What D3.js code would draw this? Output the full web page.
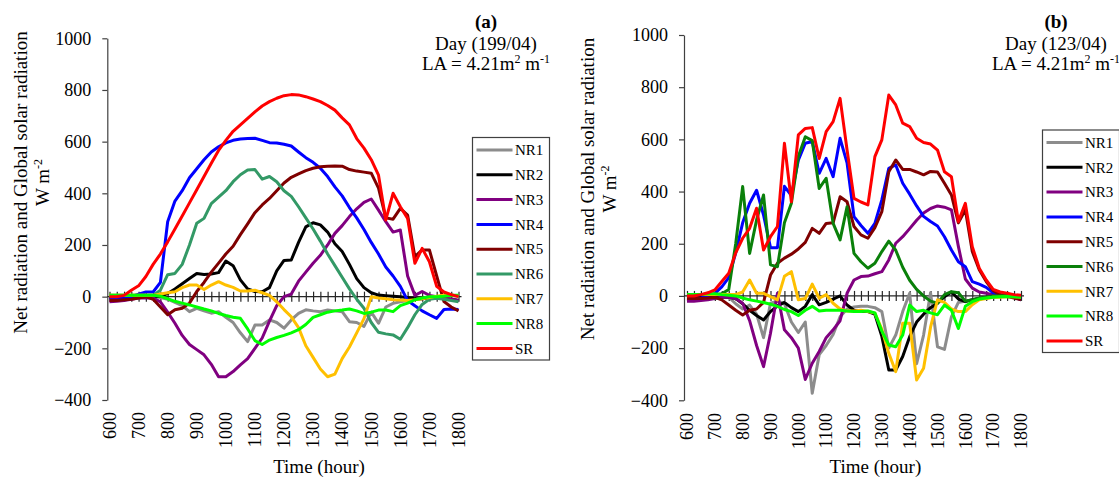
<!DOCTYPE html>
<html lang="en">
<head>
<meta charset="UTF-8">
<title>Net radiation and Global solar radiation</title>
<script src="https://d3js.org/d3.v7.min.js"></script>
<style>
  body { margin: 0; background: #fff; }
  svg { display: block; }
  svg text { font-family: "Liberation Serif", "Times New Roman", serif; fill: #000; }
</style>
</head>
<body>
<svg id="chart" width="1119" height="477"></svg>
<script>
// time of day (hhmm), one reading every 15 minutes
var times = [600,615,630,645,700,715,730,745,800,815,830,845,900,915,930,945,
  1000,1015,1030,1045,1100,1115,1130,1145,1200,1215,1230,1245,1300,1315,1330,1345,
  1400,1415,1430,1445,1500,1515,1530,1545,1600,1615,1630,1645,1700,1715,1730,1745,1800];
var hourTicks = [600,700,800,900,1000,1100,1200,1300,1400,1500,1600,1700,1800];
var yTicks = [-400,-200,0,200,400,600,800,1000];
var seriesNames = ["NR1","NR2","NR3","NR4","NR5","NR6","NR7","NR8","SR"];

// (a) day 199/04
var a_NR1 = [-5,-5,-3,0,0,0,0,-3,-10,-22,-35,-58,-45,-55,-64,-58,-80,-100,-140,-174,-110,-110,-90,-100,-122,-90,-65,-51,-55,-58,-52,-55,-58,-97,-100,-115,-60,-103,-40,-26,-20,-15,-10,-8,-5,-5,-8,-10,-15];
var a_NR2 = [-3,-3,-2,0,0,0,0,2,12,30,50,70,90,86,88,93,138,120,65,30,20,19,35,100,140,142,210,270,286,278,250,205,175,125,70,35,15,6,4,2,0,-4,-8,-8,-5,-5,-8,-10,-15];
var a_NR3 = [-20,-18,-15,-10,-5,-5,-5,-20,-60,-103,-150,-185,-205,-225,-262,-310,-310,-290,-264,-240,-200,-160,-95,-35,0,10,60,95,129,160,200,245,275,310,340,365,378,335,290,250,258,80,5,20,5,0,-5,-10,-15];
var a_NR4 = [-8,-8,-5,0,10,18,18,55,290,370,410,460,495,530,560,580,595,605,610,612,613,605,596,595,590,583,560,538,520,497,465,425,390,345,305,260,210,165,115,80,40,-15,-35,-55,-70,-84,-50,-48,-50];
var a_NR5 = [-15,-15,-12,-10,-5,0,-10,-40,-70,-51,-45,-25,20,55,95,130,165,195,240,282,325,355,380,410,440,462,475,488,497,503,505,506,505,492,486,482,478,420,305,300,342,316,155,181,181,80,-19,-40,-55];
var a_NR6 = [5,5,5,5,5,5,5,25,85,90,125,200,284,303,360,385,410,445,472,490,492,455,465,445,410,388,348,305,262,215,165,120,75,30,-10,-45,-100,-138,-144,-148,-165,-120,-70,-30,-10,-6,-10,-15,-20];
var a_NR7 = [5,5,5,5,5,5,5,10,15,19,35,45,45,28,45,58,45,36,22,22,25,15,5,-20,-50,-78,-120,-190,-235,-280,-310,-300,-240,-195,-140,-85,0,-5,-8,-12,-13,-15,-12,-8,-3,2,5,5,3];
var a_NR8 = [5,5,5,5,5,5,5,2,-8,-18,-25,-32,-40,-48,-55,-65,-73,-80,-84,-125,-170,-185,-168,-158,-150,-140,-128,-108,-80,-70,-60,-55,-52,-48,-55,-65,-60,-52,-52,-58,-35,-25,-12,-5,0,0,2,5,5];
var a_SR  = [0,0,5,25,42,78,125,165,212,262,312,363,414,465,516,566,605,640,665,690,715,738,755,768,778,782,781,774,765,755,740,722,692,665,612,575,530,470,297,400,348,303,129,187,135,40,18,8,0];

// (b) day 123/04
var b_NR1 = [-5,-5,-3,0,0,0,-5,-30,-50,-35,-70,-160,-28,-20,-30,-100,-140,-100,-373,-225,-190,-148,-80,-50,-42,-40,-40,-45,-60,-200,-150,-60,10,-260,-150,12,-195,-205,-80,-25,-20,-15,-10,-5,-3,0,0,-3,-5];
var b_NR2 = [-5,-5,-5,-5,-5,-5,-5,-10,-30,-55,-75,-92,-60,-38,-25,-45,-60,-40,5,-34,-25,-12,0,-35,-55,-60,-60,-70,-155,-284,-284,-232,-156,-100,-70,-45,-28,-3,15,-12,-22,-15,-10,-5,-3,0,0,-3,-5];
var b_NR3 = [-20,-20,-18,-15,-10,-5,-5,-10,-28,-95,-190,-271,-143,10,-130,-160,-200,-320,-258,-213,-160,-130,-95,10,61,74,76,85,93,138,202,227,258,290,318,335,345,340,330,190,65,30,15,10,5,0,0,-5,-10];
var b_NR4 = [-10,-10,-8,0,10,35,70,165,280,355,405,310,185,185,420,385,520,585,592,470,527,457,604,510,304,270,240,278,368,489,502,432,390,345,305,285,268,227,176,131,112,55,45,33,12,5,0,-5,-15];
var b_NR5 = [-10,-10,-10,-8,-5,-15,-35,-55,-73,-55,-50,-25,80,125,145,160,180,205,259,240,278,280,380,361,266,234,221,262,323,476,521,485,485,475,464,477,475,432,387,280,330,170,100,55,20,5,-2,-8,-15];
var b_NR6 = [5,5,5,5,5,8,25,200,419,163,291,387,119,112,280,355,534,610,595,412,451,278,215,342,163,131,106,125,170,210,175,110,60,25,0,-20,-28,5,16,12,-20,-15,-8,-5,0,0,2,2,0];
var b_NR7 = [5,5,5,5,5,5,5,5,15,61,10,10,-3,-15,75,93,-15,-10,45,-9,5,-28,-50,-58,-58,-55,-60,-66,-127,-220,-290,-105,-105,-322,-277,-120,-15,-25,-50,-60,-60,-34,-15,-10,-5,-5,-3,-3,-5];
var b_NR8 = [5,5,5,8,8,5,3,0,-8,-15,-20,-25,-32,-40,-52,-60,-75,-55,-40,-58,-55,-55,-55,-58,-60,-60,-58,-65,-135,-188,-195,-150,-35,-60,-55,-65,-72,-35,-55,-125,-40,-22,-12,-8,-5,-3,-2,-3,-5];
var b_SR  = [0,0,5,12,23,55,87,165,221,259,336,176,227,266,585,361,617,642,645,527,630,668,757,560,374,360,349,534,598,770,732,662,649,604,588,582,559,476,457,285,355,189,106,61,25,15,10,5,3];

var coloursA = ["#8c8c8c","#000000","#800080","#0000ff","#7f0000","#339966","#ffc000","#00ff00","#ff0000"];
var coloursB = ["#8c8c8c","#000000","#800080","#0000ff","#7f0000","#0a800a","#ffc000","#00ff00","#ff0000"];

var svg = d3.select("#chart");
var serif = "'Liberation Serif', 'Times New Roman', serif";

function drawPanel(p) {
  var g = svg.append("g").attr("font-family", serif);

  var x = d3.scalePoint().domain(times).range([p.x0, p.x1]);
  var y = d3.scaleLinear().domain([-400, 1000]).range([p.yBottom, p.yTop]);

  // y axis
  g.append("g")
    .attr("transform", "translate(" + p.axisX + ",0)")
    .call(d3.axisLeft(y).tickValues(yTicks).tickFormat(d3.format("d"))
      .tickSize(5).tickSizeOuter(0).tickPadding(11))
    .call(function(a) {
      a.attr("font-family", serif).attr("font-size", 18);
      a.selectAll("path, line").attr("stroke", "#404040").attr("stroke-width", 1.2);
      a.selectAll("text").attr("fill", "#000");
    });

  // category axis crossing at zero (cross tick marks)
  var y0 = y(0);
  g.append("line")
    .attr("x1", p.axisX).attr("x2", p.x1 + 3)
    .attr("y1", y0).attr("y2", y0)
    .attr("stroke", "#262626").attr("stroke-width", 1.2);
  [d3.axisBottom(x), d3.axisTop(x)].forEach(function(ax) {
    g.append("g")
      .attr("transform", "translate(0," + y0 + ")")
      .call(ax.tickValues(times).tickSize(5).tickFormat(""))
      .call(function(a) {
        a.select(".domain").remove();
        a.selectAll("line").attr("stroke", "#262626").attr("stroke-width", 1.2);
      });
  });

  // hour labels below the plot, rotated
  g.selectAll(".hl")
    .data(hourTicks)
    .enter().append("text")
      .attr("transform", function(d) { return "translate(" + x(d) + "," + p.labelTop + ") rotate(-90)"; })
      .attr("text-anchor", "end")
      .attr("dy", "0.35em")
      .attr("font-size", 18)
      .text(function(d) { return d; });

  // series
  var line = d3.line()
    .x(function(d, i) { return x(times[i]); })
    .y(function(d) { return y(d); });

  p.data.forEach(function(vals, k) {
    g.append("path")
      .datum(vals)
      .attr("fill", "none")
      .attr("stroke", p.colours[k])
      .attr("stroke-width", 3)
      .attr("stroke-linejoin", "round")
      .attr("d", line);
  });

  // legend
  var lg = g.append("g");
  lg.append("rect")
    .attr("x", p.legX).attr("y", p.legY)
    .attr("width", 77).attr("height", 222.5)
    .attr("fill", "#fff").attr("stroke", "#404040").attr("stroke-width", 1.2);
  seriesNames.forEach(function(name, k) {
    var ly = p.legY + 12.5 + k * 24.8;
    lg.append("line")
      .attr("x1", p.legX + 4).attr("x2", p.legX + 40)
      .attr("y1", ly).attr("y2", ly)
      .attr("stroke", p.colours[k]).attr("stroke-width", 3);
    lg.append("text")
      .attr("x", p.legX + 42.5).attr("y", ly)
      .attr("dy", "0.35em")
      .attr("font-size", 15)
      .text(name);
  });

  // titles
  g.append("text").attr("x", p.titleX).attr("y", 28.3)
    .attr("text-anchor", "middle").attr("font-size", 19).attr("font-weight", "bold")
    .text(p.tag);
  g.append("text").attr("x", p.titleX).attr("y", 50)
    .attr("text-anchor", "middle").attr("font-size", 19)
    .text(p.day);
  var la = g.append("text").attr("x", p.titleX).attr("y", 70)
    .attr("text-anchor", "middle").attr("font-size", 19);
  la.append("tspan").text("LA = 4.21m");
  la.append("tspan").attr("baseline-shift", "super").attr("font-size", 12).text("2");
  la.append("tspan").text(" m");
  la.append("tspan").attr("baseline-shift", "super").attr("font-size", 12).text("-1");

  g.append("text")
    .attr("transform", "translate(" + p.yTitleX + "," + p.yTitleY + ") rotate(-90)")
    .attr("text-anchor", "middle").attr("font-size", 19)
    .text("Net radiation and Global solar radiation");
  var wm = g.append("text")
    .attr("transform", "translate(" + (p.yTitleX + 21.5) + "," + p.yTitleY + ") rotate(-90)")
    .attr("text-anchor", "middle").attr("font-size", 19);
  wm.append("tspan").text("W m");
  wm.append("tspan").attr("baseline-shift", "super").attr("font-size", 12).text("-2");

  g.append("text")
    .attr("x", p.xTitleX).attr("y", p.xTitleY)
    .attr("text-anchor", "middle").attr("font-size", 19)
    .text("Time (hour)");
}

drawPanel({
  axisX: 107.3, x0: 109.5, x1: 458.5, yTop: 38.3, yBottom: 400, labelTop: 412,
  data: [a_NR1, a_NR2, a_NR3, a_NR4, a_NR5, a_NR6, a_NR7, a_NR8, a_SR],
  colours: coloursA,
  legX: 472.5, legY: 137.5,
  titleX: 486, tag: "(a)", day: "Day (199/04)",
  yTitleX: 27, yTitleY: 182.5,
  xTitleX: 319, xTitleY: 472.5
});

drawPanel({
  axisX: 684, x0: 687, x1: 1021, yTop: 35, yBottom: 400.3, labelTop: 413,
  data: [b_NR1, b_NR2, b_NR3, b_NR4, b_NR5, b_NR6, b_NR7, b_NR8, b_SR],
  colours: coloursB,
  legX: 1042.5, legY: 130,
  titleX: 1056, tag: "(b)", day: "Day (123/04)",
  yTitleX: 594, yTitleY: 189,
  xTitleX: 875.4, xTitleY: 472.5
});
</script>
</body>
</html>
